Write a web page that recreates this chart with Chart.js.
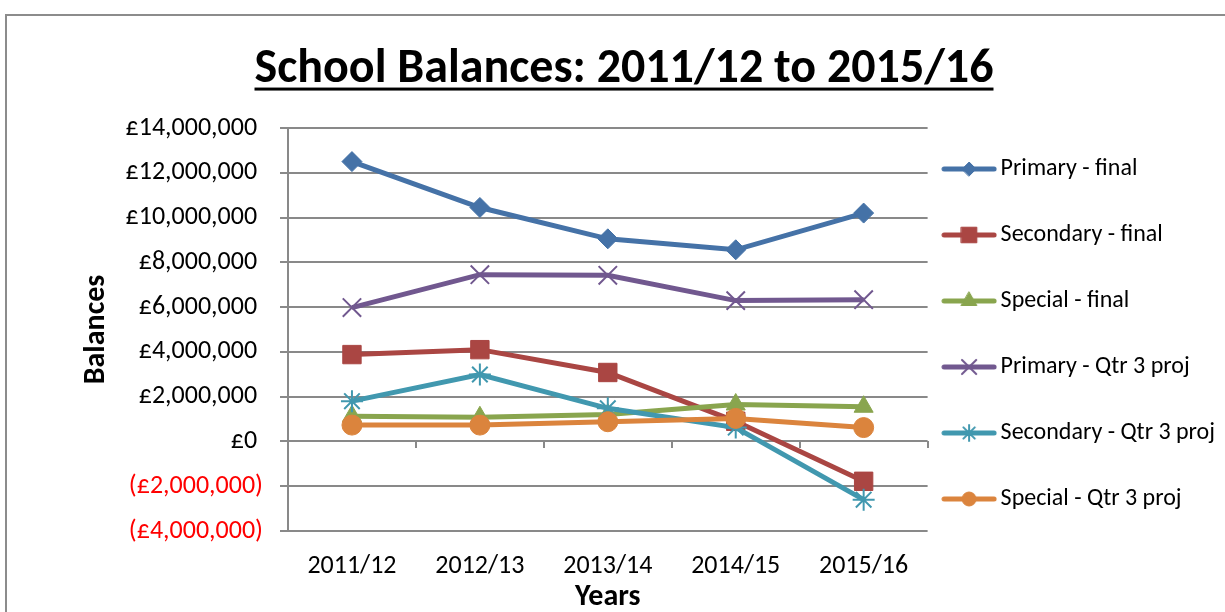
<!DOCTYPE html>
<html>
<head>
<meta charset="utf-8">
<script src="https://cdn.jsdelivr.net/npm/chart.js@4"></script>
<style>
  html, body { margin: 0; padding: 0; background: #fff; overflow: hidden; }
  #wrap { position: relative; width: 1225px; height: 612px; }
  #frame { position: absolute; left: 5px; top: 14px; width: 1300px; height: 700px; border: 2px solid #8c8c8c; pointer-events: none; }
  canvas { position: absolute; left: 0; top: 0; }
</style>
</head>
<body>
<div id="wrap">
  <canvas id="chart" width="1225" height="612"></canvas>
  <div id="frame"></div>
</div>
<script>
// data
var years = ['2011/12', '2012/13', '2013/14', '2014/15', '2015/16'];
var primaryFinal   = [12500000, 10450000, 9050000, 8560000, 10200000];
var secondaryFinal = [3880000, 4100000, 3080000, 900000, -1780000];
var specialFinal   = [1130000, 1080000, 1200000, 1650000, 1550000];
var primaryQtr3    = [5980000, 7450000, 7420000, 6290000, 6330000];
var secondaryQtr3  = [1800000, 2990000, 1480000, 620000, -2600000];
var specialQtr3    = [730000, 730000, 880000, 1030000, 620000];
var seriesNames = ['Primary - final', 'Secondary - final', 'Special - final',
                   'Primary - Qtr 3 proj', 'Secondary - Qtr 3 proj', 'Special - Qtr 3 proj'];
var yMin = -4000000, yMax = 14000000, yStep = 2000000;

var FONT = 'Carlito, Calibri, Lato, sans-serif';
var GRID = '#898989';

var series = [
  {data: primaryFinal,   color: '#4572A7', style: 'rectRot',  r: 10, lr: 7,  bw: 1},
  {data: secondaryFinal, color: '#AA4643', style: 'rect',     r: 13, lr: 11, bw: 1},
  {data: specialFinal,   color: '#89A54E', style: 'triangle', r: 11, lr: 9,  bw: 1},
  {data: primaryQtr3,    color: '#71588F', style: 'crossRot', r: 13, lr: 10, bw: 2},
  {data: secondaryQtr3,  color: '#4198AF', style: 'star',     r: 11, lr: 8,  bw: 2},
  {data: specialQtr3,    color: '#DB843D', style: 'circle',   r: 10, lr: 7,  bw: 1}
];

// little line+marker pictures for the legend
function legendIcon(s) {
  var c = document.createElement('canvas');
  c.width = 56; c.height = 22;
  var g = c.getContext('2d');
  g.strokeStyle = s.color;
  g.lineWidth = 5;
  g.lineCap = 'round';
  g.beginPath(); g.moveTo(3, 11); g.lineTo(53, 11); g.stroke();
  g.fillStyle = s.color;
  g.lineWidth = s.bw;
  if (Chart.helpers && Chart.helpers.drawPoint) {
    Chart.helpers.drawPoint(g, {pointStyle: s.style, radius: s.lr, rotation: 0, borderWidth: s.bw}, 28, 11);
  }
  return c;
}
var icons = series.map(legendIcon);

// legend / title spacing
var LEG_PAD = 22, BOX_W = 39, LEG_FONT = 24;
var m = document.createElement('canvas').getContext('2d');
m.font = LEG_FONT + 'px ' + FONT;
var widest = Math.max.apply(null, seriesNames.map(function (n) { return m.measureText(n).width; }));
var padRight = Math.round(1225 - 928 - (LEG_PAD + BOX_W + LEG_FONT / 2 + widest + 10));
var padLeft = 23 + padRight;

var datasets = series.map(function (s, i) {
  return {
    label: seriesNames[i],
    data: s.data,
    borderColor: s.color,
    backgroundColor: s.color,
    borderWidth: 5,
    tension: 0,
    pointStyle: s.style,
    pointRadius: s.r,
    pointHoverRadius: s.r,
    pointBorderWidth: s.bw,
    pointBorderColor: s.color,
    pointBackgroundColor: s.color,
    order: 5 - i
  };
});

var underline = {
  id: 'underline',
  afterDraw: function (chart) {
    var t = chart.titleBlock;
    if (!t) return;
    var o = chart.options.plugins.title;
    var ctx = chart.ctx;
    ctx.save();
    ctx.font = 'bold ' + o.font.size + 'px ' + FONT;
    var w = ctx.measureText(o.text).width;
    var cx = (t.left + t.right) / 2;
    var cy = t.top + o.padding.top + o.font.size * 1.2 / 2;
    var y = cy + o.font.size * 0.37;
    ctx.fillStyle = '#000';
    ctx.fillRect(cx - w / 2, y, w, 3);
    ctx.restore();
  }
};

new Chart(document.getElementById('chart'), {
  type: 'line',
  data: { labels: years, datasets: datasets },
  plugins: [underline],
  options: {
    responsive: false,
    animation: false,
    devicePixelRatio: 1,
    layout: { padding: { left: padLeft, right: padRight, top: 0, bottom: 0 } },
    plugins: {
      tooltip: { enabled: false },
      title: {
        display: true,
        text: 'School Balances: 2011/12 to 2015/16',
        color: '#000',
        font: { family: FONT, size: 48, weight: 'bold' },
        padding: { top: 41, bottom: 29.4 }
      },
      legend: {
        position: 'right',
        title: { display: true, text: '', padding: 0, font: { size: 10, lineHeight: '76px' } },
        labels: {
          usePointStyle: true,
          pointStyleWidth: BOX_W,
          padding: LEG_PAD,
          color: '#000',
          font: { family: FONT, size: LEG_FONT, lineHeight: '44px' },
          sort: function (a, b) { return a.datasetIndex - b.datasetIndex; },
          generateLabels: function (chart) {
            var items = Chart.defaults.plugins.legend.labels.generateLabels(chart);
            items.forEach(function (it) {
              it.text = [it.text];
              it.pointStyle = icons[it.datasetIndex];
            });
            return items;
          }
        }
      }
    },
    scales: {
      x: {
        type: 'category',
        offset: true,
        grid: { display: false, drawTicks: false },
        border: { display: false },
        ticks: { color: '#000', padding: 20, font: { family: FONT, size: 26 } },
        title: { display: true, text: 'Years', color: '#000', padding: { top: 0, bottom: 0 },
                 font: { family: FONT, size: 30, weight: 'bold', lineHeight: 1 } },
        afterFit: function (s) { s.height = 81; }
      },
      x2: {
        type: 'category',
        position: { y: 0 },
        offset: true,
        grid: { display: true, offset: true, drawOnChartArea: false, tickLength: 7, color: GRID, lineWidth: 2 },
        border: { display: false },
        ticks: { display: false },
        afterFit: function (s) { s.height = 0; }
      },
      y: {
        min: yMin,
        max: yMax,
        grid: { color: GRID, lineWidth: 2, tickLength: 8 },
        border: { display: true, color: GRID, width: 2 },
        ticks: {
          stepSize: yStep,
          padding: 17,
          font: { family: FONT, size: 26 },
          color: function (c) { return c.tick && c.tick.value < 0 ? '#ff0000' : '#000'; },
          callback: function (v) {
            var s = '£' + Math.abs(v).toLocaleString('en-GB');
            return v < 0 ? '(' + s + ')' : s + ' ';
          }
        },
        title: { display: true, text: 'Balances', color: '#000', padding: { top: 96 - 18 - padLeft, bottom: 0 },
                 font: { family: FONT, size: 30, weight: 'bold' } },
        afterFit: function (s) { s.width = 288 - padLeft; }
      }
    }
  }
});
</script>
</body>
</html>
